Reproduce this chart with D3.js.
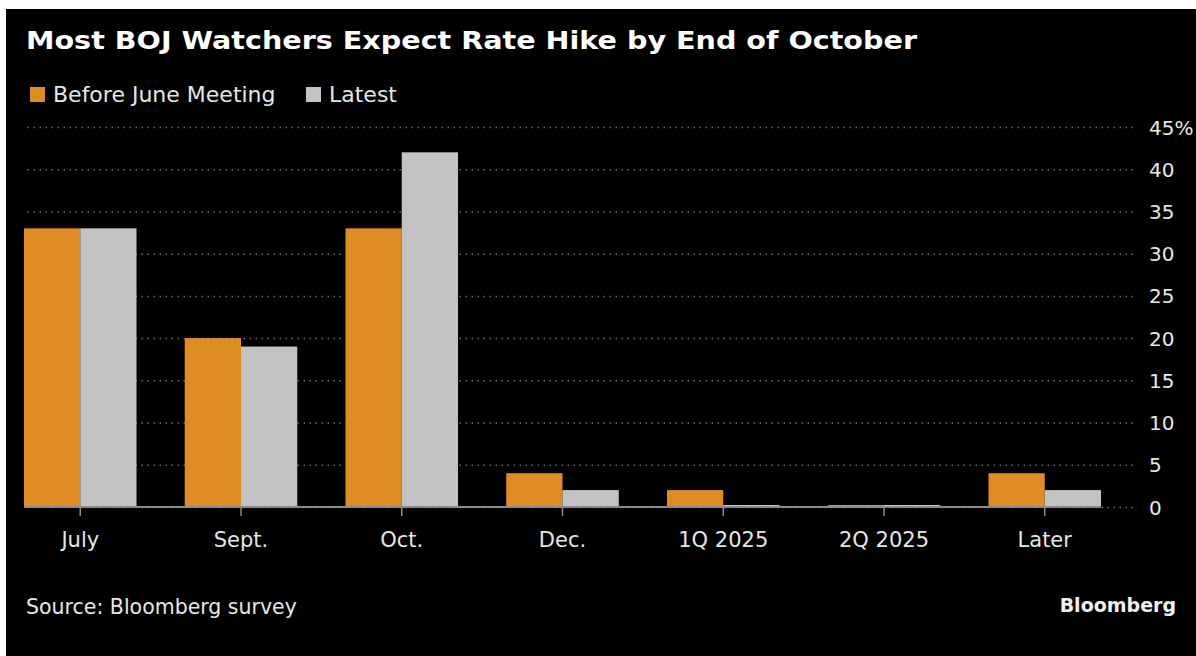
<!DOCTYPE html>
<html>
<head>
<meta charset="utf-8">
<script src="https://cdn.jsdelivr.net/npm/d3@7"></script>
<style>
  body { margin: 0; background: #fff; }
  svg { display: block; }
</style>
</head>
<body>
<div id="chart"></div>
<script>
// set width/height
const WIDTH = 1196;
const HEIGHT = 656;
// plot area
const MARGIN = { TOP: 127, RIGHT: 95, BOTTOM: 151, LEFT: 24 };

// data
const categories = ["July", "Sept.", "Oct.", "Dec.", "1Q 2025", "2Q 2025", "Later"];
const beforeJune = [33, 20, 33, 4, 2, 0, 4];
const latest = [33, 19, 42, 2, 0, 0, 2];
const yTicks = [0, 5, 10, 15, 20, 25, 30, 35, 40, 45];
const seriesNames = ["Before June Meeting", "Latest"];

const colors = d3.scaleOrdinal()
    .domain(seriesNames)
    .range(["#e08c24", "#c3c3c3"]);

const svg = d3.select("#chart")
    .append("svg")
    .attr("width", WIDTH)
    .attr("height", HEIGHT);

// black panel
svg.append("rect")
    .attr("x", 6).attr("y", 9)
    .attr("width", WIDTH - 6).attr("height", HEIGHT - 9)
    .attr("fill", "#000");

let xScale = d3.scaleBand()
    .domain(categories)
    .range([MARGIN.LEFT, 1101])
    .paddingInner(0.3)
    .paddingOuter(0);

let subScale = d3.scaleBand()
    .domain(seriesNames)
    .range([0, xScale.bandwidth()]);

let yScale = d3.scaleLinear()
    .domain([0, 45])
    .range([HEIGHT - MARGIN.BOTTOM + 2, MARGIN.TOP]);

// dotted gridlines + right labels
let yAxis = d3.axisRight(yScale)
    .tickValues(yTicks)
    .tickSize(-(1133 - MARGIN.LEFT))
    .tickPadding(16)
    .tickFormat(d => d === 45 ? "45%" : d);

let gy = svg.append("g")
    .attr("transform", "translate(1133,0)")
    .call(yAxis);
gy.select(".domain").remove();
gy.selectAll(".tick line")
    .attr("stroke", "#707070")
    .attr("stroke-width", 1.5)
    .attr("stroke-dasharray", "1.5,4.5");
gy.selectAll(".tick text")
    .attr("fill", "#e6e6e6")
    .attr("font-family", "DejaVu Sans")
    .attr("font-size", 20)
    .attr("dy", "0.35em");

// rows for grouped bars
let rows = categories.map((c, i) => ({ cat: c, vals: [beforeJune[i], latest[i]] }));

let groups = svg.selectAll(".group")
    .data(rows)
    .enter()
    .append("g")
    .attr("class", "group")
    .attr("transform", d => "translate(" + xScale(d.cat) + ",0)");

groups.selectAll("rect")
    .data(d => d.vals.map((v, j) => ({ key: seriesNames[j], v: v })))
    .enter()
    .append("rect")
    .attr("x", d => subScale(d.key))
    .attr("width", subScale.bandwidth())
    .attr("y", d => Math.min(yScale(d.v), yScale(0) - 2))
    .attr("height", d => Math.max(yScale(0) - yScale(d.v), 2))
    .attr("fill", d => colors(d.key));

// x axis: baseline and ticks at the middle of each group
let xAxis = d3.axisBottom(xScale)
    .tickSize(9)
    .tickPadding(16)
    .tickSizeOuter(0);

let gx = svg.append("g")
    .attr("transform", "translate(0," + yScale(0) + ")")
    .call(xAxis);
gx.select(".domain").attr("stroke", "#8a8a8a").attr("stroke-width", 2)
    .attr("d", "M" + MARGIN.LEFT + ",0H1101");
gx.selectAll(".tick line").attr("stroke", "#8a8a8a").attr("stroke-width", 1.5);
gx.selectAll(".tick text")
    .attr("fill", "#e6e6e6")
    .attr("font-family", "DejaVu Sans")
    .attr("font-size", 21);
gx.selectAll(".tick line, .domain").raise();

// title
svg.append("text")
    .attr("x", 26)
    .attr("y", 49)
    .attr("fill", "#fff")
    .attr("font-family", "DejaVu Sans")
    .attr("font-weight", "bold")
    .attr("font-size", 25)
    .attr("textLength", 891)
    .attr("lengthAdjust", "spacingAndGlyphs")
    .text("Most BOJ Watchers Expect Rate Hike by End of October");

// legend
let legendX = [30, 306];
let legend = svg.selectAll(".legend")
    .data(seriesNames)
    .enter()
    .append("g")
    .attr("class", "legend")
    .attr("transform", (d, i) => "translate(" + legendX[i] + ",87)");
legend.append("rect")
    .attr("width", 15).attr("height", 15)
    .attr("fill", d => colors(d));
legend.append("text")
    .attr("x", 23)
    .attr("y", 15)
    .attr("fill", "#e6e6e6")
    .attr("font-family", "DejaVu Sans")
    .attr("font-size", 22)
    .text(d => d);

// footer
svg.append("text")
    .attr("x", 26)
    .attr("y", 614)
    .attr("fill", "#e6e6e6")
    .attr("font-family", "DejaVu Sans")
    .attr("font-size", 20.5)
    .text("Source: Bloomberg survey");

svg.append("text")
    .attr("x", 1176)
    .attr("y", 612)
    .attr("text-anchor", "end")
    .attr("fill", "#f0f0f0")
    .attr("font-family", "DejaVu Sans")
    .attr("font-weight", "bold")
    .attr("font-size", 19)
    .text("Bloomberg");
</script>
</body>
</html>
